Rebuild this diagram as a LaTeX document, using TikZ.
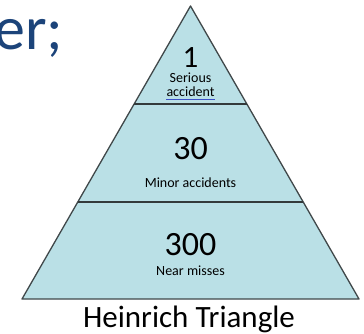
\documentclass[tikz,border=0pt]{standalone}
\usepackage{fontspec}
\setmainfont{Carlito}
\usepackage{tikz}
\usetikzlibrary{arrows.meta}
\usepackage{xcolor}
\definecolor{tierfill}{RGB}{186, 224, 230}
\definecolor{tieredge}{RGB}{64, 72, 74}
\definecolor{titleblue}{RGB}{28, 68, 122}
\definecolor{linkblue}{RGB}{60, 80, 200}

\begin{document}
\begin{tikzpicture}[x=1pt, y=-1pt, >=Latex]
    \useasboundingbox (0,0) rectangle (364,334);
    % slide title, cut off at the left
    \node[anchor=base west, inner sep=0pt, text=titleblue, font=\fontsize{62}{62}\selectfont] (title) at (-6,50) {er;};
    % the triangle and its three tiers
    \filldraw[fill=tierfill, draw=tieredge, line width=1.3pt, line join=round]
      (190.5,6) -- (359,299) -- (22,299) -- cycle;
    \draw[tieredge!80!black, line width=1.5pt] (134.1,104) -- (246.9,104);
    \draw[tieredge!80!black, line width=1.5pt] (77.8,202) -- (303.2,202);
    % top tier
    \node[anchor=base, inner sep=0pt, font=\fontsize{31}{31}\selectfont] (one) at (190.5,68) {1};
    \node[anchor=base, inner sep=0pt, font=\fontsize{14}{14}\selectfont] (serious) at (190.5,82.5) {Serious};
    \node[anchor=base, inner sep=0pt, font=\fontsize{14}{14}\selectfont] (accident) at (190.5,97) {accident};
    \draw[linkblue, line width=0.9pt] ([yshift=-2.2pt]accident.base west) -- ([yshift=-2.2pt]accident.base east);
    % middle tier
    \node[anchor=base, inner sep=0pt, font=\fontsize{34}{34}\selectfont] (thirty) at (190.5,160) {30};
    \node[anchor=base, inner sep=0pt, font=\fontsize{14}{14}\selectfont] (minor) at (190.5,187) {Minor accidents};
    % bottom tier
    \node[anchor=base, inner sep=0pt, font=\fontsize{34}{34}\selectfont] (threehundred) at (190.5,255) {300};
    \node[anchor=base, inner sep=0pt, font=\fontsize{14}{14}\selectfont] (near) at (190.5,275) {Near misses};
    % caption
    \node[anchor=base, inner sep=0pt, font=\fontsize{31}{31}\selectfont] (caption) at (189,327) {Heinrich Triangle};
  \end{tikzpicture}
\end{document}
